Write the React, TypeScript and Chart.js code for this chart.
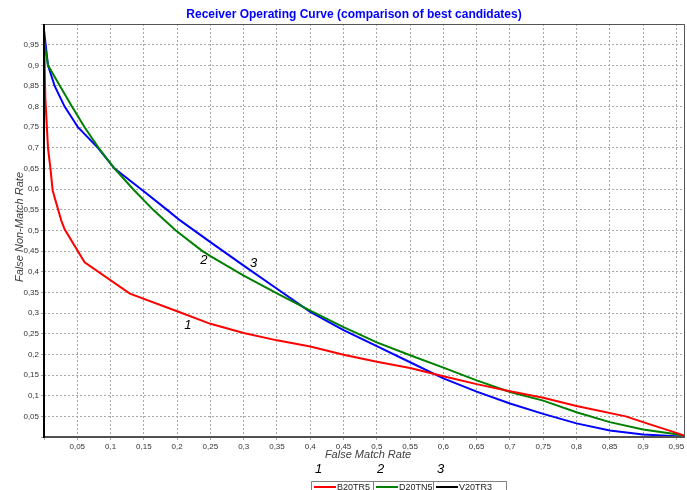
import React, { useEffect, useRef } from 'react';
import { Chart, registerables } from 'chart.js';
Chart.register(...registerables);

const TITLE = 'Receiver Operating Curve (comparison of best candidates)';
const X_TITLE = 'False Match Rate';
const Y_TITLE = 'False Non-Match Rate';
const SERIES_NAMES = ['B20TR5', 'D20TN5', 'V20TR3'];
const SERIES_TAGS = ['1', '2', '3'];
const SERIES_COLORS = ['#ff0000', '#008000', '#0000ff'];
const LEGEND_COLORS = ['#ff0000', '#008000', '#000000'];
const TAG_X = [0.216, 0.240, 0.315];
const TAG_Y = [0.270, 0.427, 0.420];

const X_MAX = 0.963;
const Y_MAX = 1.0;

const redX = [0, 0.002, 0.006, 0.010, 0.013, 0.026, 0.031, 0.061, 0.129, 0.204, 0.25, 0.30, 0.35, 0.40, 0.45, 0.50, 0.55, 0.60, 0.65, 0.70, 0.75, 0.80, 0.874, 0.90, 0.95, 0.963];
const redY = [0.98, 0.82, 0.70, 0.645, 0.597, 0.524, 0.503, 0.423, 0.347, 0.302, 0.274, 0.252, 0.234, 0.219, 0.199, 0.182, 0.167, 0.147, 0.128, 0.111, 0.095, 0.075, 0.050, 0.036, 0.010, 0.003];

const greenX = [0, 0.003, 0.006, 0.024, 0.042, 0.061, 0.082, 0.106, 0.134, 0.164, 0.198, 0.238, 0.25, 0.30, 0.35, 0.40, 0.45, 0.50, 0.55, 0.60, 0.65, 0.70, 0.75, 0.80, 0.85, 0.90, 0.95, 0.963];
const greenY = [0.96, 0.93, 0.90, 0.85, 0.80, 0.75, 0.70, 0.65, 0.60, 0.55, 0.50, 0.45, 0.438, 0.391, 0.348, 0.306, 0.266, 0.229, 0.198, 0.168, 0.137, 0.109, 0.088, 0.060, 0.036, 0.018, 0.0065, 0.002];

const blueX = [0, 0.0025, 0.006, 0.016, 0.031, 0.051, 0.081, 0.106, 0.146, 0.185, 0.204, 0.25, 0.30, 0.35, 0.40, 0.45, 0.50, 0.55, 0.60, 0.65, 0.70, 0.75, 0.80, 0.85, 0.90, 0.95, 0.963];
const blueY = [0.985, 0.95, 0.90, 0.85, 0.80, 0.75, 0.70, 0.65, 0.60, 0.55, 0.525, 0.472, 0.415, 0.359, 0.303, 0.259, 0.220, 0.181, 0.142, 0.110, 0.081, 0.056, 0.033, 0.016, 0.006, 0.002, 0.0];

const SERIES_X = [redX, greenX, blueX];
const SERIES_Y = [redY, greenY, blueY];

const FONT = 'Arial, "Liberation Sans", sans-serif';

function fmt(v: number): string {
  if (v <= 0.0001 || v >= 0.999) return '';
  return String(Number(v.toFixed(2))).replace('.', ',');
}

const overlay = {
  id: 'overlay',
  afterDatasetsDraw(chart: any) {
    const { ctx, chartArea: a } = chart;
    ctx.save();
    ctx.strokeStyle = '#555555';
    ctx.lineWidth = 1;
    ctx.beginPath();
    ctx.moveTo(a.left, a.top + 0.5);
    ctx.lineTo(a.right - 0.5, a.top + 0.5);
    ctx.lineTo(a.right - 0.5, a.bottom);
    ctx.stroke();
    ctx.strokeStyle = '#505050';
    ctx.lineWidth = 2;
    ctx.beginPath();
    ctx.moveTo(a.left, a.bottom);
    ctx.lineTo(a.right, a.bottom);
    ctx.stroke();
    ctx.strokeStyle = '#000000';
    ctx.lineWidth = 2;
    ctx.beginPath();
    ctx.moveTo(a.left, a.top);
    ctx.lineTo(a.left, a.bottom + 1);
    ctx.stroke();
    ctx.restore();
  },
  afterDraw(chart: any) {
    const { ctx, scales } = chart;
    ctx.save();
    ctx.fillStyle = '#0000ff';
    ctx.font = `bold 12px ${FONT}`;
    ctx.textAlign = 'center';
    ctx.textBaseline = 'middle';
    ctx.fillText(TITLE, 354, 15);
    ctx.fillStyle = '#404040';
    ctx.font = `italic 11px ${FONT}`;
    ctx.fillText(X_TITLE, 368, 455);
    ctx.save();
    ctx.translate(20, 227);
    ctx.rotate(-Math.PI / 2);
    ctx.fillText(Y_TITLE, 0, 0);
    ctx.restore();
    ctx.fillStyle = '#000000';
    ctx.font = `italic 13px ${FONT}`;
    for (let i = 0; i < SERIES_TAGS.length; i++) {
      ctx.fillText(SERIES_TAGS[i], scales.x.getPixelForValue(TAG_X[i]), scales.y.getPixelForValue(TAG_Y[i]));
    }
    const boxL = 311.5, boxT = 481.5;
    const seps = [311.5, 373.5, 433.5, 506.5];
    ctx.strokeStyle = '#808080';
    ctx.lineWidth = 1;
    ctx.beginPath();
    ctx.moveTo(boxL, 495);
    ctx.lineTo(boxL, boxT);
    ctx.lineTo(seps[3], boxT);
    ctx.lineTo(seps[3], 495);
    ctx.moveTo(seps[1], boxT);
    ctx.lineTo(seps[1], 495);
    ctx.moveTo(seps[2], boxT);
    ctx.lineTo(seps[2], 495);
    ctx.stroke();
    for (let i = 0; i < SERIES_NAMES.length; i++) {
      const x0 = seps[i] + 2.5;
      ctx.strokeStyle = LEGEND_COLORS[i];
      ctx.lineWidth = 2;
      ctx.beginPath();
      ctx.moveTo(x0, 487);
      ctx.lineTo(x0 + 22, 487);
      ctx.stroke();
      ctx.fillStyle = '#202020';
      ctx.font = `9px ${FONT}`;
      ctx.textAlign = 'left';
      ctx.fillText(SERIES_NAMES[i], x0 + 23, 487.5);
      ctx.fillStyle = '#000000';
      ctx.font = `italic 13px ${FONT}`;
      ctx.textAlign = 'center';
      ctx.fillText(SERIES_TAGS[i], seps[i] + 7, 469);
    }
    ctx.restore();
  },
};

export default function App() {
  const ref = useRef<HTMLCanvasElement | null>(null);
  useEffect(() => {
    document.body.style.margin = '0';
    const canvas = ref.current;
    if (!canvas) return;
    const datasets = SERIES_NAMES.map((name, i) => ({
      label: name,
      data: SERIES_X[i].map((x, j) => ({ x, y: SERIES_Y[i][j] })),
      borderColor: SERIES_COLORS[i],
      backgroundColor: SERIES_COLORS[i],
      borderWidth: 2,
      pointRadius: 0,
      tension: 0,
      fill: false,
    }));
    const tickOpts = {
      stepSize: 0.05,
      includeBounds: false,
      autoSkip: false,
      maxRotation: 0,
      color: '#333333',
      font: { family: FONT, size: 8 },
      padding: 2,
      callback: (v: any) => fmt(Number(v)),
    };
    const chart = new Chart(canvas, {
      type: 'line',
      data: { datasets },
      plugins: [overlay],
      options: {
        responsive: false,
        animation: false,
        layout: { padding: { top: 24, right: 2, left: 0, bottom: 0 } },
        plugins: { legend: { display: false }, title: { display: false }, tooltip: { enabled: false } },
        scales: {
          x: {
            type: 'linear',
            min: 0,
            max: X_MAX,
            ticks: tickOpts as any,
            grid: { color: '#a8a8a8', lineWidth: 1, tickLength: 3 },
            border: { display: false, dash: [2, 2] },
            afterFit: (s: any) => { s.height = 53; s.paddingLeft = 0; s.paddingRight = 0; },
          },
          y: {
            type: 'linear',
            min: 0,
            max: Y_MAX,
            ticks: tickOpts as any,
            grid: { color: '#a8a8a8', lineWidth: 1, tickLength: 3 },
            border: { display: false, dash: [2, 2] },
            afterFit: (s: any) => { s.width = 44; s.paddingTop = 0; s.paddingBottom = 0; },
          },
        },
      } as any,
    });
    return () => chart.destroy();
  }, []);
  return <canvas ref={ref} width={687} height={490} style={{ display: 'block', width: 687, height: 490 }} />;
}
